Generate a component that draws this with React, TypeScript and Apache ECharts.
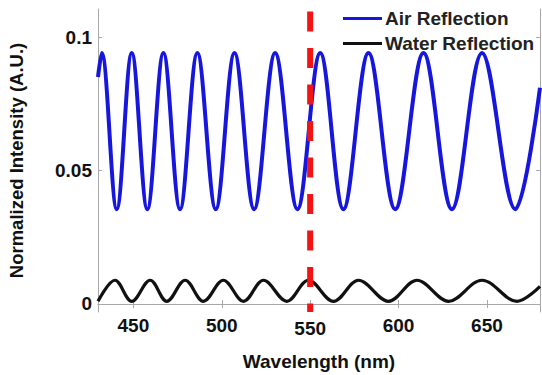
import React, { useEffect, useRef } from "react";
import * as echarts from "echarts";

// Wavelength (nm) of the Air Reflection curve's start, peaks, troughs and end
const airWavelength = [430, 432.1, 440.6, 449.1, 457.9, 467.0, 476.4, 486.2, 496.6, 507.2, 518.3, 530.2, 542.8, 555.7, 568.8, 583.0, 598.1, 614.1, 630.2, 647.2, 666.0, 680];
const airIntensity = [0.085, 0.094, 0.0355, 0.094, 0.0355, 0.094, 0.0355, 0.094, 0.0355, 0.094, 0.0355, 0.094, 0.0355, 0.094, 0.0355, 0.094, 0.0355, 0.094, 0.0355, 0.094, 0.0355, 0.081];

// Water Reflection curve
const waterWavelength = [430, 439.6, 449.1, 459.5, 468.9, 479.3, 489.6, 500.9, 512.3, 523.6, 536.8, 549.0, 563.2, 577.3, 594.3, 610.4, 628.3, 647.2, 667.0, 680];
const waterIntensity = [0.001, 0.0089, 0.001, 0.0089, 0.001, 0.0089, 0.001, 0.0089, 0.001, 0.0089, 0.001, 0.0089, 0.001, 0.0089, 0.001, 0.0089, 0.001, 0.0089, 0.001, 0.0066];

const xTicks = [450, 500, 550, 600, 650];
const yTicks = [0, 0.05, 0.1];
const markerWavelength = 550;

const X_MIN = 430;
const X_MAX = 680;
const Y_MIN = -0.003;
const Y_MAX = 0.1105;

const FONT = '"Liberation Sans", Arial, Helvetica, sans-serif';

export default function App() {
  const ref = useRef<HTMLDivElement>(null);

  useEffect(() => {
    if (!ref.current) return;
    const chart = echarts.init(ref.current, null, { renderer: "svg" });
    const axisGray = "#a8a8a8";
    const frameAxis = {
      axisLine: { show: true, lineStyle: { color: axisGray, width: 1 } },
      axisTick: { show: true, inside: true, length: 4, lineStyle: { color: axisGray } },
      splitLine: { show: false },
    };
    chart.setOption({
      animation: false,
      backgroundColor: "#ffffff",
      grid: { left: 98, right: 2, top: 9, bottom: 63, containLabel: false, outerBoundsMode: "none" },
      legend: {
        orient: "vertical",
        left: 338,
        top: 4,
        icon: "rect",
        itemWidth: 39,
        itemHeight: 3,
        itemGap: 6,
        data: ["Air Reflection", "Water Reflection"],
        textStyle: { fontFamily: FONT, fontWeight: "bold", fontSize: 19, color: "#222", lineHeight: 18, padding: [0, 0, 0, -2] },
        backgroundColor: "rgba(255,255,255,0)",
      },
      xAxis: [
        {
          type: "value",
          min: X_MIN,
          max: X_MAX,
          position: "bottom",
          name: "Wavelength (nm)",
          nameLocation: "middle",
          nameGap: 40,
          nameTextStyle: { fontFamily: FONT, fontWeight: "bold", fontSize: 19, color: "#111" },
          ...frameAxis,
          axisTick: { ...frameAxis.axisTick, customValues: xTicks },
          axisLabel: {
            customValues: xTicks,
            margin: 4,
            fontFamily: FONT,
            fontWeight: "bold",
            fontSize: 19,
            color: "#111",
            formatter: (v: number) => (v === 550 ? "{d|550}" : String(v)),
            rich: { d: { fontFamily: FONT, fontWeight: "bold", fontSize: 19, color: "#111", padding: [3, 0, 0, 0] } },
          },
        },
        {
          type: "value",
          min: X_MIN,
          max: X_MAX,
          position: "top",
          ...frameAxis,
          axisTick: { ...frameAxis.axisTick, customValues: xTicks },
          axisLabel: { show: false },
        },
      ],
      yAxis: [
        {
          type: "value",
          min: Y_MIN,
          max: Y_MAX,
          position: "left",
          name: "Normalized Intensity (A.U.)",
          nameLocation: "middle",
          nameGap: 72,
          nameTextStyle: { fontFamily: FONT, fontWeight: "bold", fontSize: 18.5, color: "#111" },
          ...frameAxis,
          axisTick: { ...frameAxis.axisTick, customValues: yTicks },
          axisLabel: {
            customValues: yTicks,
            margin: 6,
            fontFamily: FONT,
            fontWeight: "bold",
            fontSize: 19,
            color: "#111",
            formatter: (v: number) => String(v),
          },
        },
        {
          type: "value",
          min: Y_MIN,
          max: Y_MAX,
          position: "right",
          ...frameAxis,
          axisTick: { ...frameAxis.axisTick, customValues: yTicks },
          axisLabel: { show: false },
        },
      ],
      series: [
        {
          name: "Air Reflection",
          type: "line",
          data: airWavelength.map((x, i) => [x, airIntensity[i]]),
          smooth: 0.36,
          showSymbol: false,
          symbol: "none",
          lineStyle: { color: "#1616dc", width: 4 },
          itemStyle: { color: "#1616dc" },
          z: 2,
        },
        {
          name: "Water Reflection",
          type: "line",
          data: waterWavelength.map((x, i) => [x, waterIntensity[i]]),
          smooth: 0.36,
          showSymbol: false,
          symbol: "none",
          lineStyle: { color: "#111111", width: 3.2 },
          itemStyle: { color: "#111111" },
          z: 2,
        },
        {
          name: "marker",
          type: "line",
          data: [
            [markerWavelength, Y_MAX],
            [markerWavelength, Y_MIN],
          ],
          showSymbol: false,
          symbol: "none",
          silent: true,
          lineStyle: { color: "#f21414", width: 6, type: [20, 16.5], dashOffset: 33.8 },
          z: 5,
        },
      ],
    });
    return () => chart.dispose();
  }, []);

  return <div ref={ref} style={{ width: 542, height: 375, position: "absolute", left: 0, top: 0 }} />;
}
